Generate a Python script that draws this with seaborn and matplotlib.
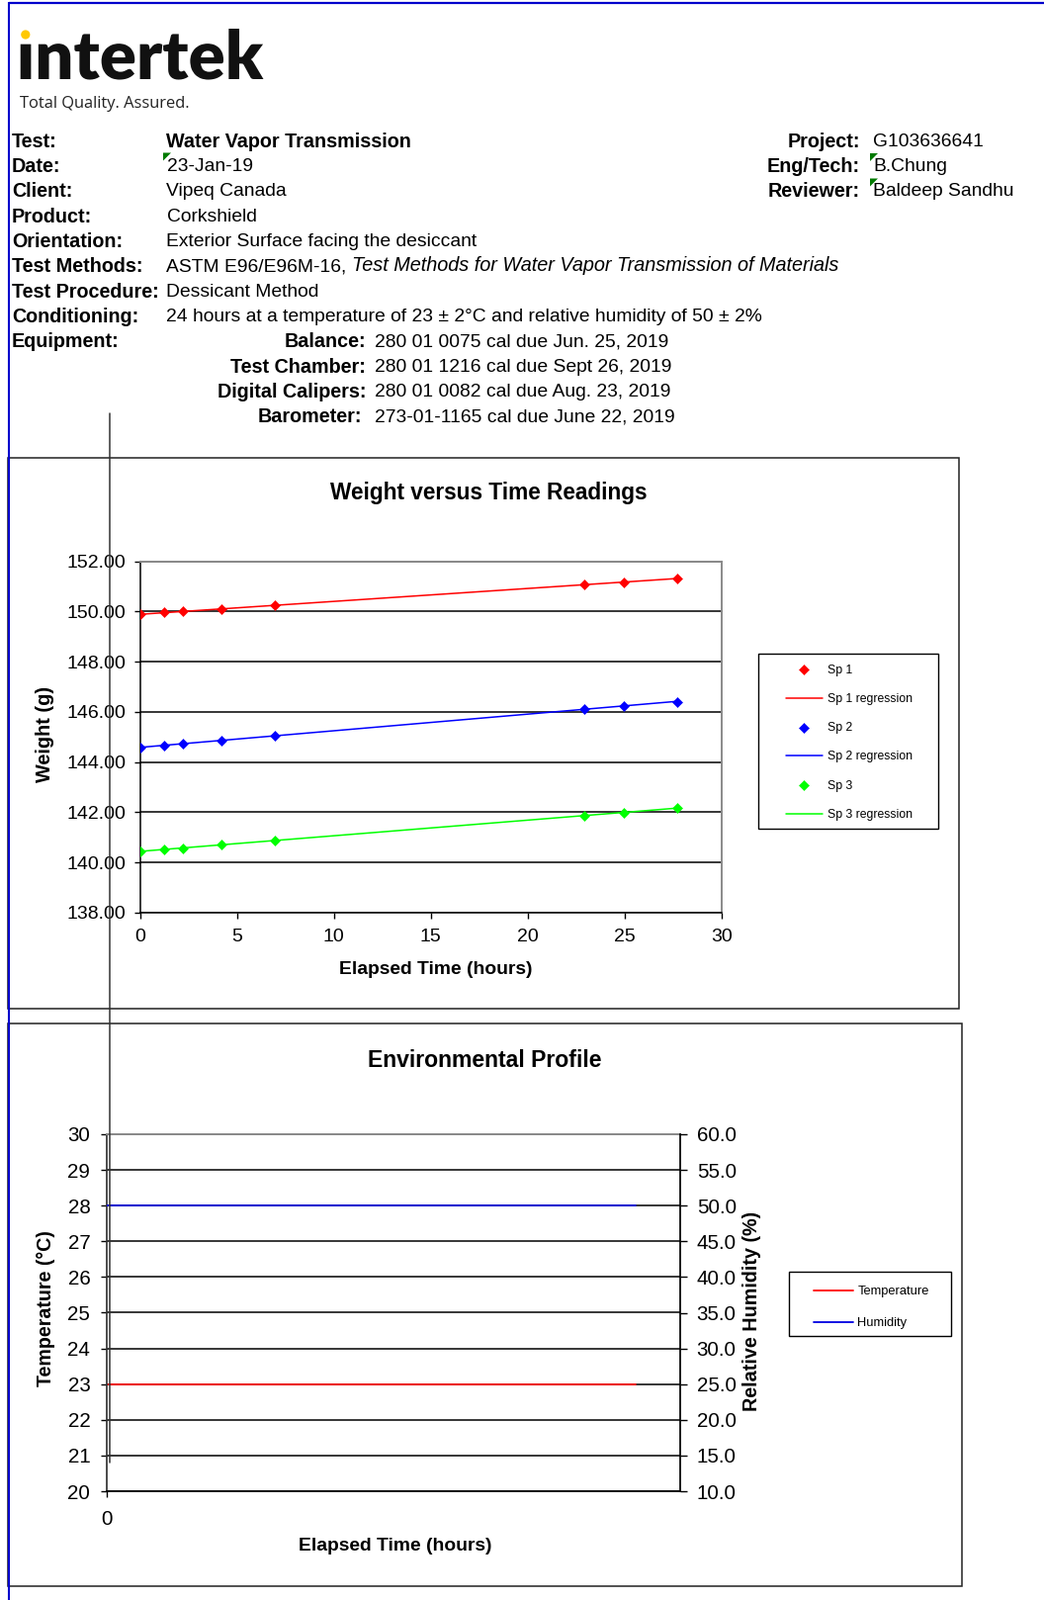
import numpy as np
import pandas as pd
import seaborn as sns
import matplotlib.pyplot as plt
from matplotlib.patches import Rectangle, Polygon, Circle, PathPatch
from matplotlib.textpath import TextPath
from matplotlib.font_manager import FontProperties
from matplotlib.transforms import Affine2D

W, H = 1056, 1618

# header block
HEADER_LABELS = ["Test:", "Date:", "Client:", "Product:", "Orientation:", "Test Methods:",
                 "Test Procedure:", "Conditioning:", "Equipment:"]
HEADER_VALUES = ["Water Vapor Transmission", "23-Jan-19", "Vipeq Canada", "Corkshield",
                 "Exterior Surface facing the desiccant", "ASTM E96/E96M-16,", "Dessicant Method",
                 "24 hours at a temperature of 23 ± 2°C and relative humidity of 50 ± 2%", ""]
METHOD_TITLE = "Test Methods for Water Vapor Transmission of Materials"
PROJECT_LABELS = ["Project:", "Eng/Tech:", "Reviewer:"]
PROJECT_VALUES = ["G103636641", "B.Chung", "Baldeep Sandhu"]
EQUIP_LABELS = ["Balance:", "Test Chamber:", "Digital Calipers:", "Barometer:"]
EQUIP_VALUES = ["280 01 0075 cal due Jun. 25, 2019", "280 01 1216 cal due Sept 26, 2019",
                "280 01 0082 cal due Aug. 23, 2019", "273-01-1165 cal due June 22, 2019"]

# weight readings
HOURS = [0.0, 1.23, 2.22, 4.18, 6.93, 22.92, 24.97, 27.68]
SP1 = [149.90, 149.96, 150.01, 150.08, 150.25, 151.08, 151.18, 151.31]
SP2 = [144.58, 144.65, 144.75, 144.87, 145.06, 146.12, 146.24, 146.41]
SP3 = [140.46, 140.51, 140.58, 140.71, 140.87, 141.88, 141.99, 142.17]
SPECIMENS = ["Sp 1", "Sp 2", "Sp 3"]
SP_COLORS = ["#FF0000", "#0000FF", "#00FF00"]
WEIGHT_TICKS = [138, 140, 142, 144, 146, 148, 150, 152]
TIME_TICKS = [0, 5, 10, 15, 20, 25, 30]

# environmental profile
TEMPERATURE = [23.0, 23.0, 23.0, 23.0, 23.0, 23.0, 23.0, 23.0]
HUMIDITY = [50.0, 50.0, 50.0, 50.0, 50.0, 50.0, 50.0, 50.0]
TEMP_TICKS = [20, 21, 22, 23, 24, 25, 26, 27, 28, 29, 30]
RH_TICKS = [10, 15, 20, 25, 30, 35, 40, 45, 50, 55, 60]

HEAD_FS = 13.9
HEAD_BOLD_FS = 14.2


def fig_rect(left, top, right, bottom):
    return [left / W, 1 - bottom / H, (right - left) / W, (bottom - top) / H]


def draw_header(page):
    row0, step = 143.3, 25.3
    for i, (lab, val) in enumerate(zip(HEADER_LABELS, HEADER_VALUES)):
        y = row0 + i * step
        page.text(12, y, lab, fontsize=HEAD_BOLD_FS, weight="bold", va="center")
        t = page.text(168.5, y, val, fontsize=HEAD_BOLD_FS if i == 0 else HEAD_FS, va="center",
                      weight="bold" if i == 0 else "normal")
        if lab == "Test Methods:":
            page.annotate(METHOD_TITLE, xy=(1, 0), xycoords=t, xytext=(3.8, 0),
                          textcoords="offset points", fontsize=14.3, style="italic",
                          va="bottom", ha="left")
    for i, (lab, val) in enumerate(zip(PROJECT_LABELS, PROJECT_VALUES)):
        y = row0 + i * step
        page.text(870, y, lab, fontsize=HEAD_BOLD_FS, weight="bold", va="center", ha="right")
        page.text(883, y, val, fontsize=HEAD_FS, va="center")
    for i, (lab, val) in enumerate(zip(EQUIP_LABELS, EQUIP_VALUES)):
        y = row0 + (8 + i) * step
        page.text(370 if i < 3 else 366, y, lab, fontsize=HEAD_BOLD_FS, weight="bold",
                  va="center", ha="right")
        page.text(379, y, val, fontsize=HEAD_FS, va="center")
    # comment markers
    for x0, y0 in [(165, 154.5), (880, 155), (880, 180.5)]:
        page.add_patch(Polygon([(x0, y0), (x0 + 8, y0), (x0, y0 + 8)], closed=True,
                               color="#007A00", lw=0))


def draw_logo(page):
    tp = TextPath((0, 0), "ıntertek", size=100, prop=FontProperties(family="Lato", weight="heavy"))
    ext = tp.get_extents()
    sx = (266.5 - 20.7) / (ext.x1 - ext.x0)
    sy = (80 - 29) / ext.y1
    tr = Affine2D().translate(-ext.x0, 0).scale(sx, -sy).translate(20.7, 80) + page.transData
    page.add_patch(PathPatch(tp, color="#111111", lw=0, transform=tr))
    page.add_patch(Circle((25.8, 35), 4.6, color="#FFC800", lw=0))
    page.text(20, 104.5, "Total Quality. Assured.", fontsize=11.9, family="Open Sans",
              va="center", color="#222222")


def plot_weights(fig, page):
    ax = fig.add_axes(fig_rect(141.7, 567.7, 730, 923))
    readings = {"Sp 1": SP1, "Sp 2": SP2, "Sp 3": SP3}
    for name, color in zip(SPECIMENS, SP_COLORS):
        df = pd.DataFrame({"hours": HOURS, "weight": readings[name]})
        sns.scatterplot(data=df, x="hours", y="weight", ax=ax, color=color, marker="D",
                        s=26, edgecolor=color, linewidth=0.4, label=name, legend=False, zorder=4)
        sns.regplot(data=df, x="hours", y="weight", ax=ax, scatter=False, ci=None,
                    color=color, line_kws={"lw": 1.1}, label=f"{name} regression", truncate=True)
    ax.set_xlim(0, 30)
    ax.set_ylim(138, 152)
    ax.set_xticks(TIME_TICKS)
    ax.set_yticks(WEIGHT_TICKS)
    ax.set_yticklabels([f"{v:.2f}" for v in WEIGHT_TICKS])
    ax.set_xlabel("")
    ax.set_ylabel("")
    ax.yaxis.grid(True, color="black", lw=1.1)
    ax.xaxis.grid(False)
    ax.set_axisbelow(True)
    for side in ["left", "bottom"]:
        ax.spines[side].set_color("black")
        ax.spines[side].set_linewidth(1.1)
    for side in ["top", "right"]:
        ax.spines[side].set_color("#8A8A8A")
        ax.spines[side].set_linewidth(1.4)
    ax.tick_params(direction="out", length=4, width=1, color="black", labelsize=14,
                   left=True, bottom=True)
    ax.tick_params(axis="y", pad=6.5)
    ax.tick_params(axis="x", pad=7.5)

    page.text(494.5, 498, "Weight versus Time Readings", fontsize=16.3, weight="bold",
              ha="center", va="center")
    page.text(441, 980, "Elapsed Time (hours)", fontsize=13.9, weight="bold", ha="center",
              va="center")
    page.text(45.5, 742, "Weight (g)", fontsize=14.3, weight="bold", ha="center", va="center",
              rotation=90)

    page.add_patch(Rectangle((767, 661), 182, 177, fill=False, edgecolor="black", lw=1.0))
    handles, labels = ax.get_legend_handles_labels()
    fig.legend(handles, labels, loc="upper left", bbox_to_anchor=(795 / W, 1 - 671.5 / H),
               frameon=False, fontsize=8.8, borderpad=0, borderaxespad=0, handlelength=3.0,
               handletextpad=0.42, labelspacing=1.415, markerscale=1.0)


def plot_environment(fig, page):
    ax = fig.add_axes(fig_rect(108, 1147, 688, 1508))
    ax_rh = ax.twinx()
    sns.lineplot(x=HOURS, y=TEMPERATURE, ax=ax, color="#FF0000", lw=1.3, label="Temperature",
                 legend=False)
    sns.lineplot(x=HOURS, y=HUMIDITY, ax=ax_rh, color="#0000E0", lw=1.3, label="Humidity",
                 legend=False)
    ax.set_xlim(0, 30)
    ax.set_ylim(20, 30)
    ax_rh.set_ylim(10, 60)
    ax.set_xticks([0])
    ax.set_yticks(TEMP_TICKS)
    ax_rh.set_yticks(RH_TICKS)
    ax_rh.set_yticklabels([f"{v:.1f}" for v in RH_TICKS])
    ax.set_xlabel("")
    ax.set_ylabel("")
    ax_rh.set_ylabel("")
    ax.yaxis.grid(True, color="black", lw=1.1)
    ax.xaxis.grid(False)
    ax_rh.grid(False)
    ax.set_axisbelow(True)
    ax.spines["right"].set_visible(False)
    for side in ["left", "top", "bottom"]:
        ax_rh.spines[side].set_visible(False)
    ax.spines["left"].set_color("#333333")
    ax.spines["bottom"].set_color("black")
    ax.spines["top"].set_color("#8A8A8A")
    ax.spines["top"].set_linewidth(1.4)
    ax_rh.spines["right"].set_color("black")
    ax.tick_params(direction="out", length=4, width=1, color="black", labelsize=14.8,
                   left=True, bottom=True)
    ax.tick_params(axis="y", pad=8)
    ax.tick_params(axis="x", pad=9.5)
    ax_rh.tick_params(direction="out", length=5, width=1, color="black", labelsize=14.8,
                      right=True, pad=7)

    page.text(490, 1072.5, "Environmental Profile", fontsize=16.6, weight="bold",
              ha="center", va="center")
    page.text(399.5, 1564, "Elapsed Time (hours)", fontsize=13.9, weight="bold", ha="center",
              va="center")
    page.text(46.5, 1323, "Temperature (°C)", fontsize=14.1, weight="bold", ha="center",
              va="center", rotation=90)
    page.text(761, 1326, "Relative Humidity (%)", fontsize=14.2, weight="bold", ha="center",
              va="center", rotation=90)

    page.add_patch(Rectangle((798, 1286), 164, 65, fill=False, edgecolor="black", lw=1.0))
    h1, l1 = ax.get_legend_handles_labels()
    h2, l2 = ax_rh.get_legend_handles_labels()
    fig.legend(h1 + h2, l1 + l2, loc="upper left", bbox_to_anchor=(823 / W, 1 - 1300 / H),
               frameon=False, fontsize=9.3, borderpad=0, borderaxespad=0, handlelength=3.1,
               handletextpad=0.33, labelspacing=1.58)


def main():
    sns.set_theme(style="white")
    plt.rcParams["font.family"] = ["Liberation Sans", "DejaVu Sans"]
    plt.rcParams["text.color"] = "black"
    plt.rcParams["xtick.color"] = "black"
    plt.rcParams["ytick.color"] = "black"

    fig = plt.figure(figsize=(W / 100, H / 100), dpi=100)
    page = fig.add_axes([0, 0, 1, 1])
    page.set_xlim(0, W)
    page.set_ylim(H, 0)
    page.axis("off")

    # blue page border
    page.plot([9, W], [2.5, 2.5], color="#0000CC", lw=1.6, solid_capstyle="butt")
    page.plot([8.8, 8.8], [2, H], color="#0000CC", lw=1.5, solid_capstyle="butt")

    # chart frames
    page.add_patch(Rectangle((8, 463), 962, 557, facecolor="white", edgecolor="#222222", lw=1.1))
    page.add_patch(Rectangle((8, 1035), 965, 569, facecolor="white", edgecolor="#222222", lw=1.1))

    draw_logo(page)
    draw_header(page)
    plot_weights(fig, page)
    plot_environment(fig, page)

    # stray drawing line crossing both charts
    top = fig.add_axes([0, 0, 1, 1], zorder=10)
    top.patch.set_visible(False)
    top.set_xlim(0, W)
    top.set_ylim(H, 0)
    top.axis("off")
    top.plot([110.5, 110.5], [418, 1479], color="#333333", lw=1.1)

    fig.savefig("out.png", dpi=100)
    plt.close(fig)


if __name__ == "__main__":
    main()
